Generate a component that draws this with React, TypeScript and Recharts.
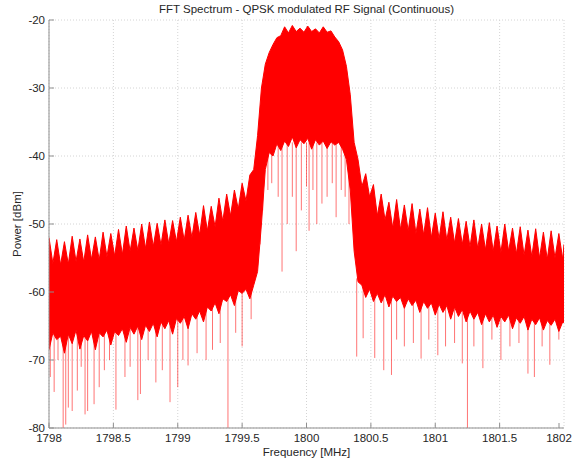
import { Area, CartesianGrid, ComposedChart, ReferenceLine, XAxis, YAxis } from "recharts";

// frequency grid in MHz (lobe peaks on even entries, notches between)
const FREQ = [
  1798.0, 1798.03, 1798.06, 1798.09, 1798.12, 1798.15, 1798.18, 1798.21, 1798.24, 1798.27,
  1798.3, 1798.33, 1798.36, 1798.39, 1798.42, 1798.45, 1798.48, 1798.51, 1798.54, 1798.57,
  1798.6, 1798.63, 1798.66, 1798.69, 1798.72, 1798.75, 1798.78, 1798.81, 1798.84, 1798.87,
  1798.9, 1798.93, 1798.96, 1798.99, 1799.02, 1799.05, 1799.08, 1799.11, 1799.14, 1799.17,
  1799.2, 1799.23, 1799.26, 1799.29, 1799.32, 1799.35, 1799.38, 1799.41, 1799.44, 1799.47,
  1799.5, 1799.53, 1799.56, 1799.59, 1799.62, 1799.65, 1799.68, 1799.71, 1799.74, 1799.77,
  1799.8, 1799.83, 1799.86, 1799.89, 1799.92, 1799.95, 1799.98, 1800.01, 1800.04, 1800.07,
  1800.1, 1800.13, 1800.16, 1800.19, 1800.22, 1800.25, 1800.28, 1800.31, 1800.34, 1800.37,
  1800.4, 1800.43, 1800.46, 1800.49, 1800.52, 1800.55, 1800.58, 1800.61, 1800.64, 1800.67,
  1800.7, 1800.73, 1800.76, 1800.79, 1800.82, 1800.85, 1800.88, 1800.91, 1800.94, 1800.97,
  1801.0, 1801.03, 1801.06, 1801.09, 1801.12, 1801.15, 1801.18, 1801.21, 1801.24, 1801.27,
  1801.3, 1801.33, 1801.36, 1801.39, 1801.42, 1801.45, 1801.48, 1801.51, 1801.54, 1801.57,
  1801.6, 1801.63, 1801.66, 1801.69, 1801.72, 1801.75, 1801.78, 1801.81, 1801.84, 1801.87,
  1801.9, 1801.93, 1801.96, 1801.99, 1802.0,
];

// top of the trace (dBm)
const UPPER = [
  -52.0, -55.8, -52.3, -56.0, -52.6, -55.9, -51.8, -55.5, -52.2, -55.6,
  -51.6, -55.2, -51.9, -55.3, -51.2, -54.8, -51.4, -54.7, -50.8, -54.5,
  -50.3, -54.0, -50.6, -53.9, -50.0, -53.6, -49.7, -53.3, -49.9, -53.1,
  -49.4, -52.9, -49.5, -52.6, -49.0, -52.4, -48.7, -52.0, -48.3, -51.6,
  -47.3, -51.0, -47.4, -50.4, -46.2, -49.6, -45.6, -48.8, -45.0, -47.8,
  -44.0, -46.6, -42.8, -42.0, -37.0, -30.0, -26.5, -24.8, -23.6, -22.6,
  -22.3, -21.0, -21.9, -20.8, -21.7, -21.2, -21.8, -20.9, -21.7, -21.3,
  -21.9, -21.0, -21.8, -21.6, -22.5, -23.2, -24.4, -26.8, -31.0, -38.0,
  -40.5, -44.5, -42.6, -46.0, -44.2, -48.8, -45.6, -49.4, -46.8, -50.6,
  -46.4, -50.8, -47.2, -51.0, -47.0, -51.4, -47.8, -51.6, -47.6, -52.0,
  -48.4, -52.2, -48.2, -52.4, -49.0, -52.8, -49.2, -53.0, -49.6, -53.4,
  -49.4, -53.6, -50.0, -53.8, -49.8, -54.0, -50.3, -54.2, -50.0, -54.0,
  -50.6, -54.4, -50.4, -54.6, -50.9, -54.8, -50.7, -55.0, -51.2, -55.2,
  -51.0, -55.0, -51.4, -55.2, -53.0,
];

// bottom of the solid part of the trace (dBm)
const LOWER = [
  -68.5, -66.0, -67.0, -66.5, -69.0, -66.2, -67.6, -65.6, -68.4, -66.4,
  -67.2, -65.8, -68.5, -66.0, -66.6, -65.6, -67.8, -65.8, -66.4, -65.4,
  -67.4, -65.2, -66.2, -65.0, -67.0, -64.9, -65.8, -64.6, -66.6, -64.4,
  -65.4, -64.2, -66.2, -63.9, -64.6, -63.6, -65.4, -63.2, -64.0, -62.8,
  -64.4, -62.2, -62.8, -61.6, -63.2, -61.0, -61.4, -60.4, -62.0, -59.8,
  -60.2, -59.6, -61.0, -59.0, -57.0, -50.0, -42.0, -39.5, -40.0, -38.2,
  -39.2, -37.8, -38.6, -37.2, -38.8, -37.6, -38.2, -37.4, -39.0, -37.6,
  -38.4, -37.8, -38.9, -37.9, -38.4, -38.0, -39.0, -40.5, -45.0, -54.0,
  -58.5, -59.0, -60.8, -59.6, -61.4, -60.2, -61.6, -60.4, -62.2, -60.6,
  -61.4, -60.8, -62.4, -61.0, -62.0, -61.2, -63.0, -61.4, -62.4, -61.6,
  -63.4, -61.8, -63.0, -62.0, -64.0, -62.2, -63.6, -62.6, -64.4, -62.8,
  -64.0, -63.0, -64.8, -63.2, -64.4, -63.4, -65.2, -63.6, -64.4, -63.4,
  -65.4, -63.8, -64.6, -63.6, -65.6, -64.0, -64.8, -63.8, -65.6, -64.2,
  -64.9, -64.0, -65.8, -64.4, -64.5,
];

// deep single-bin dips below the solid trace
const SPIKE_FREQ = [
  1798.01, 1798.04, 1798.07, 1798.11, 1798.13, 1798.15, 1798.18, 1798.22, 1798.25, 1798.28,
  1798.3, 1798.35, 1798.39, 1798.43, 1798.47, 1798.52, 1798.59, 1798.63, 1798.69, 1798.71,
  1798.77, 1798.83, 1798.88, 1798.94, 1799.0, 1799.04, 1799.08, 1799.15, 1799.22, 1799.27,
  1799.33, 1799.39, 1799.45, 1799.5, 1799.57,
  1799.62, 1799.64, 1799.66, 1799.7, 1799.73, 1799.78, 1799.81, 1799.85, 1799.89, 1799.92,
  1799.96, 1800.0, 1800.02, 1800.05, 1800.08, 1800.12, 1800.16, 1800.2, 1800.23, 1800.27,
  1800.3, 1800.33,
  1800.39, 1800.44, 1800.53, 1800.6, 1800.66, 1800.7, 1800.76, 1800.83, 1800.89, 1800.95,
  1801.02, 1801.08, 1801.15, 1801.21, 1801.25, 1801.3, 1801.37, 1801.44, 1801.51, 1801.58,
  1801.65, 1801.72, 1801.77, 1801.83, 1801.89, 1801.96,
];
const SPIKE_TOP = [
  -66, -66, -66, -66, -66, -66, -66, -66, -66, -66,
  -66, -66, -65, -65, -65, -65, -65, -65, -65, -65,
  -64, -64, -64, -64, -63, -63, -63, -62, -62, -61,
  -60, -60, -59, -59, -58,
  -52, -46, -40, -38, -38, -38, -38, -38, -38, -38,
  -38, -38, -38, -38, -38, -38, -38, -38, -38, -38,
  -39, -42,
  -58, -59, -60, -61, -61, -61, -61, -61, -62, -62,
  -62, -62, -62, -63, -63, -63, -63, -63, -64, -64,
  -64, -64, -64, -64, -64, -64,
];
const SPIKE_BOTTOM = [
  -72.5, -74.7, -70.0, -80.0, -79.5, -77.0, -77.5, -74.5, -71.0, -78.0,
  -77.5, -76.5, -74.0, -71.5, -70.0, -77.3, -72.5, -71.0, -75.9, -75.0,
  -70.0, -73.3, -71.5, -76.2, -74.0, -70.0, -70.8, -69.0, -70.0, -68.5,
  -67.5, -80.0, -66.0, -68.0, -64.0,
  -56.0, -53.0, -48.0, -45.0, -44.0, -46.0, -57.0, -50.0, -46.0, -54.0,
  -48.0, -44.5, -51.0, -45.0, -50.0, -47.0, -46.0, -44.0, -49.0, -45.0,
  -46.0, -50.0,
  -69.5, -66.8, -69.7, -71.5, -72.2, -67.0, -68.0, -67.5, -69.8, -67.0,
  -69.3, -68.0, -67.5, -70.5, -80.0, -68.0, -71.2, -67.0, -70.0, -68.0,
  -67.5, -72.0, -72.5, -68.0, -70.7, -67.0,
];

const X_TICKS = [1798, 1798.5, 1799, 1799.5, 1800, 1800.5, 1801, 1801.5, 1802];
const Y_TICKS = [-80, -70, -60, -50, -40, -30, -20];

const AXIS = "#8f8f8f";
const TEXT = "#262626";
const FONT = '"Liberation Sans", Arial, sans-serif';

const data = FREQ.map((f, i) => ({ f, band: [LOWER[i], UPPER[i]] }));

function BottomTick({ x, y, payload }: any) {
  return (
    <g>
      <line x1={x} x2={x} y1={y} y2={y - 5} stroke={AXIS} />
      <text x={x} y={y + 14} textAnchor="middle" fontSize={11.5} fontFamily={FONT} fill={TEXT}>
        {payload.value}
      </text>
    </g>
  );
}

function TopTick({ x, y }: any) {
  return <line x1={x} x2={x} y1={y} y2={y + 5} stroke={AXIS} />;
}

function LeftTick({ x, y, payload }: any) {
  return (
    <g>
      <line x1={x} x2={x + 5} y1={y} y2={y} stroke={AXIS} />
      <text x={x - 4} y={y + 4} textAnchor="end" fontSize={11.5} fontFamily={FONT} fill={TEXT}>
        {payload.value}
      </text>
    </g>
  );
}

function RightTick({ x, y }: any) {
  return <line x1={x} x2={x - 5} y1={y} y2={y} stroke={AXIS} />;
}

export default function App() {
  return (
    <div style={{ position: "absolute", left: 0, top: 0, width: 575, height: 461, fontFamily: FONT, background: "#fff" }}>
      <div style={{ position: "absolute", top: 2, left: 49, width: 515, textAlign: "center", fontSize: 11.5, lineHeight: "14px", color: TEXT }}>
        FFT Spectrum - QPSK modulated RF Signal (Continuous)
      </div>
      <div
        style={{
          position: "absolute", left: -43, top: 217, width: 120, height: 14, lineHeight: "14px",
          textAlign: "center", fontSize: 11.5, color: TEXT, transform: "rotate(-90deg)",
        }}
      >
        Power [dBm]
      </div>
      <div style={{ position: "absolute", top: 445, left: 49, width: 515, textAlign: "center", fontSize: 11.5, lineHeight: "14px", color: TEXT }}>
        Frequency [MHz]
      </div>
      <ComposedChart width={575} height={461} data={data} margin={{ top: 20, right: 11, bottom: 0, left: 0 }}>
        <CartesianGrid stroke="#d4d4d4" strokeDasharray="1 2" />
        <XAxis
          dataKey="f" type="number" domain={[1798, 1802]} ticks={X_TICKS} allowDataOverflow
          height={33} tickSize={0} tickMargin={0} axisLine={{ stroke: AXIS }} tickLine={false} tick={<BottomTick />}
        />
        <XAxis
          xAxisId="top" orientation="top" dataKey="f" type="number" domain={[1798, 1802]} ticks={X_TICKS}
          height={0} tickSize={0} tickMargin={0} axisLine={{ stroke: AXIS }} tickLine={false} tick={<TopTick />}
        />
        <YAxis
          type="number" domain={[-80, -20]} ticks={Y_TICKS} allowDataOverflow width={49}
          tickSize={0} tickMargin={0} axisLine={{ stroke: AXIS }} tickLine={false} tick={<LeftTick />}
        />
        <YAxis
          yAxisId="right" orientation="right" type="number" domain={[-80, -20]} ticks={Y_TICKS} width={0}
          tickSize={0} tickMargin={0} axisLine={{ stroke: AXIS }} tickLine={false} tick={<RightTick />}
        />
        <Area
          dataKey="band" type="linear" stroke="#ff0000" strokeWidth={1} fill="#ff0000" fillOpacity={1}
          isAnimationActive={false} dot={false} activeDot={false}
        />
        {SPIKE_FREQ.map((f, i) => (
          <ReferenceLine
            key={i}
            segment={[{ x: f, y: SPIKE_TOP[i] }, { x: f, y: SPIKE_BOTTOM[i] }]}
            stroke="#ff0000"
            strokeOpacity={0.55}
            ifOverflow="hidden"
          />
        ))}
      </ComposedChart>
    </div>
  );
}
